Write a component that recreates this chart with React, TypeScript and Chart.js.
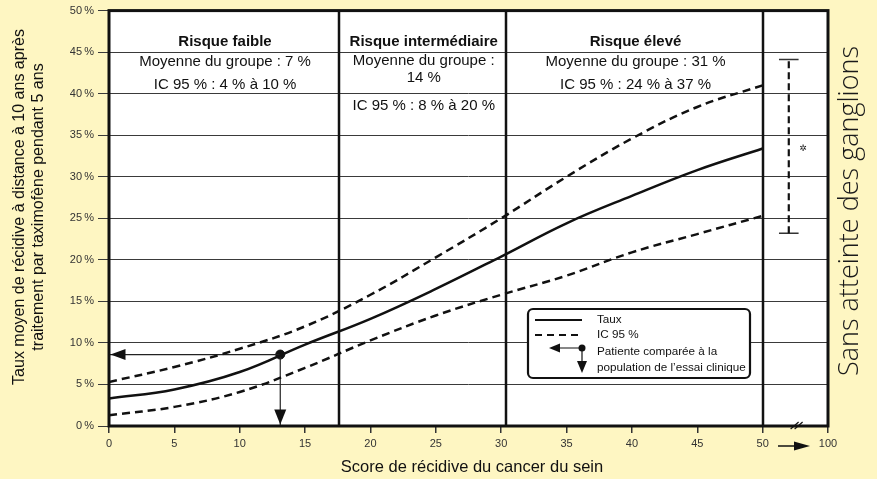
import React, { useEffect, useRef } from 'react';
import { Chart, registerables } from 'chart.js';

Chart.register(...registerables);

// ---- data ----
const scores = [0, 5, 10, 15, 20, 25, 30, 35, 40, 45, 50];
const taux = [3.3, 4.4, 6.5, 9.8, 12.9, 16.5, 20.4, 24.4, 27.7, 30.8, 33.4];
const icUpper = [5.3, 7.1, 9.3, 12.0, 15.8, 20.3, 25.0, 30.0, 34.6, 38.4, 41.0];
const icLower = [1.3, 2.3, 4.1, 7.0, 10.3, 13.3, 15.8, 18.1, 20.9, 23.1, 25.3];

const xTickValues = [0, 5, 10, 15, 20, 25, 30, 35, 40, 45, 50, 55];
const xTickLabels = ['0', '5', '10', '15', '20', '25', '30', '35', '40', '45', '50', '100'];
const yTickValues = [0, 5, 10, 15, 20, 25, 30, 35, 40, 45, 50];

const riskBounds = [0, 17.6, 30.4, 50];
const riskTitles = ['Risque faible', 'Risque intermédiaire', 'Risque élevé'];
const riskLines = [
  ['Moyenne du groupe : 7 %', 'IC 95 % : 4 % à 10 %'],
  ['Moyenne du groupe :', '14 %', 'IC 95 % : 8 % à 20 %'],
  ['Moyenne du groupe : 31 %', 'IC 95 % : 24 % à 37 %'],
];

const nodeNegX = 52;
const nodeNegRange = [23.2, 44.1];
const nodeNegMarkX = 53.1;
const nodeNegMarkY = 33.4;

const patientPoint = [13.1, 8.6];

const breakMarkX = 52.6;

const BG = '#FEF6C2';
const INK = '#111111';
const FONT = '"Liberation Sans", Arial, sans-serif';

const pts = (ys: number[]) => scores.map((x, i) => ({ x, y: ys[i] }));

function arrowHead(ctx: CanvasRenderingContext2D, tipX: number, tipY: number, dir: 'left' | 'down' | 'right', len: number, half: number) {
  ctx.beginPath();
  if (dir === 'left') {
    ctx.moveTo(tipX, tipY);
    ctx.lineTo(tipX + len, tipY - half);
    ctx.lineTo(tipX + len, tipY + half);
  } else if (dir === 'right') {
    ctx.moveTo(tipX, tipY);
    ctx.lineTo(tipX - len, tipY - half);
    ctx.lineTo(tipX - len, tipY + half);
  } else {
    ctx.moveTo(tipX, tipY);
    ctx.lineTo(tipX - half, tipY - len);
    ctx.lineTo(tipX + half, tipY - len);
  }
  ctx.closePath();
  ctx.fill();
}

const decor = {
  id: 'decor',
  beforeDraw(chart: any) {
    const { ctx, chartArea: a } = chart;
    ctx.save();
    ctx.fillStyle = BG;
    ctx.fillRect(0, 0, chart.width, chart.height);
    ctx.fillStyle = '#ffffff';
    ctx.fillRect(a.left, a.top, a.right - a.left, a.bottom - a.top);
    ctx.restore();
  },
  afterDraw(chart: any) {
    const { ctx, chartArea: a } = chart;
    const xs = chart.scales.x;
    const ys = chart.scales.y;
    ctx.save();

    // risk dividers
    ctx.strokeStyle = INK;
    ctx.lineWidth = 2.5;
    riskBounds.slice(1).forEach((b) => {
      const px = Math.round(xs.getPixelForValue(b));
      ctx.beginPath();
      ctx.moveTo(px, a.top);
      ctx.lineTo(px, a.bottom);
      ctx.stroke();
    });

    // frame
    ctx.lineWidth = 3;
    ctx.strokeRect(a.left, a.top, a.right - a.left, a.bottom - a.top);

    // risk texts
    ctx.fillStyle = INK;
    ctx.textAlign = 'center';
    ctx.textBaseline = 'middle';
    const lineYs = [[62, 85], [61, 78, 106], [62, 85]];
    for (let i = 0; i < 3; i++) {
      const cx = (xs.getPixelForValue(riskBounds[i]) + xs.getPixelForValue(riskBounds[i + 1])) / 2 + 1;
      ctx.font = `bold 15px ${FONT}`;
      ctx.fillText(riskTitles[i], cx, 42);
      ctx.font = `15px ${FONT}`;
      riskLines[i].forEach((t, j) => ctx.fillText(t, cx, lineYs[i][j]));
    }

    // patient arrowheads
    ctx.fillStyle = INK;
    const py = ys.getPixelForValue(patientPoint[1]);
    const px = xs.getPixelForValue(patientPoint[0]);
    arrowHead(ctx, a.left + 1.5, py, 'left', 15, 5.5);
    arrowHead(ctx, px, a.bottom - 1.5, 'down', 15, 6);

    // asterisk mark
    ctx.font = `9px "DejaVu Sans", sans-serif`;
    ctx.fillText('✲', xs.getPixelForValue(nodeNegMarkX), ys.getPixelForValue(nodeNegMarkY));

    // axis break mark
    const bx = xs.getPixelForValue(breakMarkX);
    ctx.strokeStyle = INK;
    ctx.lineWidth = 1.2;
    [-2, 2].forEach((d) => {
      ctx.beginPath();
      ctx.moveTo(bx + d - 4, a.bottom + 3);
      ctx.lineTo(bx + d + 4, a.bottom - 4);
      ctx.stroke();
    });

    // arrow between 50 and 100 labels
    const ay = 446;
    ctx.lineWidth = 1.5;
    ctx.beginPath();
    ctx.moveTo(778, ay);
    ctx.lineTo(796, ay);
    ctx.stroke();
    arrowHead(ctx, 810, ay, 'right', 16, 4.5);

    // axis titles
    ctx.fillStyle = INK;
    ctx.textAlign = 'center';
    ctx.font = `16.5px ${FONT}`;
    ctx.fillText('Score de récidive du cancer du sein', 472, 467);

    ctx.save();
    ctx.translate(20, 207);
    ctx.rotate(-Math.PI / 2);
    ctx.font = `16px ${FONT}`;
    ctx.fillText('Taux moyen de récidive à distance à 10 ans après', 0, 0);
    ctx.fillText('traitement par taximofène pendant 5 ans', 0, 19);
    ctx.restore();

    ctx.save();
    ctx.translate(850, 211);
    ctx.rotate(-Math.PI / 2);
    ctx.font = `300 27px "Open Sans", ${FONT}`;
    ctx.fillStyle = '#1a1a1a';
    ctx.fillText('Sans atteinte des ganglions', 0, 0);
    ctx.restore();

    // legend
    const L = { x: 528, y: 309, w: 222, h: 69 };
    ctx.fillStyle = '#ffffff';
    ctx.strokeStyle = INK;
    ctx.lineWidth = 2.2;
    ctx.beginPath();
    (ctx as any).roundRect(L.x, L.y, L.w, L.h, 5);
    ctx.fill();
    ctx.stroke();

    ctx.lineWidth = 2.2;
    ctx.beginPath();
    ctx.moveTo(535, 320);
    ctx.lineTo(582, 320);
    ctx.stroke();
    ctx.setLineDash([7, 5]);
    ctx.beginPath();
    ctx.moveTo(535, 335);
    ctx.lineTo(582, 335);
    ctx.stroke();
    ctx.setLineDash([]);

    ctx.fillStyle = INK;
    ctx.lineWidth = 1.2;
    ctx.beginPath();
    ctx.moveTo(582, 348);
    ctx.lineTo(556, 348);
    ctx.moveTo(582, 348);
    ctx.lineTo(582, 362);
    ctx.stroke();
    arrowHead(ctx, 549, 348, 'left', 11, 4.5);
    arrowHead(ctx, 582, 373, 'down', 12, 5);
    ctx.beginPath();
    ctx.arc(582, 348, 3.5, 0, Math.PI * 2);
    ctx.fill();

    ctx.font = `11.7px ${FONT}`;
    ctx.textAlign = 'left';
    ctx.fillText('Taux', 597, 320);
    ctx.fillText('IC 95 %', 597, 335);
    ctx.fillText('Patiente comparée à la', 597, 352);
    ctx.fillText('population de l’essai clinique', 597, 368);

    ctx.restore();
  },
};

export default function App() {
  const ref = useRef<HTMLCanvasElement>(null);

  useEffect(() => {
    if (!ref.current) return;
    const chart = new Chart(ref.current, {
      type: 'line',
      data: {
        datasets: [
          {
            label: 'Taux',
            data: pts(taux),
            borderColor: INK,
            borderWidth: 2.5,
            pointRadius: 0,
            tension: 0.4,
          },
          {
            label: 'IC 95 % sup',
            data: pts(icUpper),
            borderColor: INK,
            borderWidth: 2.5,
            borderDash: [8, 5],
            pointRadius: 0,
            tension: 0.4,
          },
          {
            label: 'IC 95 % inf',
            data: pts(icLower),
            borderColor: INK,
            borderWidth: 2.5,
            borderDash: [8, 5],
            pointRadius: 0,
            tension: 0.4,
          },
          {
            label: 'Sans atteinte',
            data: [
              { x: nodeNegX, y: nodeNegRange[0] },
              { x: nodeNegX, y: nodeNegRange[1] },
            ],
            borderColor: INK,
            borderWidth: 2.2,
            borderDash: [7, 4],
            pointRadius: 0,
          },
          {
            label: 'cap haut',
            data: [
              { x: nodeNegX - 0.75, y: nodeNegRange[1] },
              { x: nodeNegX + 0.75, y: nodeNegRange[1] },
            ],
            borderColor: '#333',
            borderWidth: 1.5,
            pointRadius: 0,
          },
          {
            label: 'cap bas',
            data: [
              { x: nodeNegX - 0.75, y: nodeNegRange[0] },
              { x: nodeNegX + 0.75, y: nodeNegRange[0] },
            ],
            borderColor: '#333',
            borderWidth: 1.5,
            pointRadius: 0,
          },
          {
            label: 'patiente h',
            data: [
              { x: 0, y: patientPoint[1] },
              { x: patientPoint[0], y: patientPoint[1] },
            ],
            borderColor: '#222',
            borderWidth: 1.2,
            pointRadius: 0,
          },
          {
            label: 'patiente v',
            data: [
              { x: patientPoint[0], y: patientPoint[1] },
              { x: patientPoint[0], y: 0 },
            ],
            borderColor: '#222',
            borderWidth: 1.2,
            pointRadius: 0,
          },
          {
            label: 'patiente',
            data: [{ x: patientPoint[0], y: patientPoint[1] }],
            showLine: false,
            pointRadius: 4.5,
            pointBackgroundColor: INK,
            pointBorderColor: INK,
          },
        ],
      },
      options: {
        responsive: false,
        animation: false,
        devicePixelRatio: 1,
        events: [],
        layout: { padding: { left: 0, top: 8, right: 49, bottom: 0 } },
        plugins: { legend: { display: false }, tooltip: { enabled: false } },
        scales: {
          x: {
            type: 'linear',
            min: 0,
            max: 55,
            afterBuildTicks: (s: any) => {
              s.ticks = xTickValues.map((v) => ({ value: v }));
            },
            afterFit: (s: any) => {
              s.height = 53;
            },
            ticks: {
              color: '#333',
              font: { family: FONT, size: 11 },
              padding: 4,
              maxRotation: 0,
              autoSkip: false,
              callback: (v: any) => xTickLabels[xTickValues.indexOf(Number(v))] ?? '',
            },
            grid: { drawOnChartArea: false, drawTicks: true, tickLength: 7, color: '#333', lineWidth: 1.5 },
            border: { display: false },
          },
          y: {
            type: 'linear',
            min: 0,
            max: 50,
            afterBuildTicks: (s: any) => {
              s.ticks = yTickValues.map((v) => ({ value: v }));
            },
            afterFit: (s: any) => {
              s.width = 109;
            },
            ticks: {
              color: '#333',
              font: { family: FONT, size: 11 },
              padding: 4,
              callback: (v: any) => `${v}\u2009%`,
            },
            grid: { color: '#3a3a3a', lineWidth: 1, tickLength: 11, drawTicks: true },
            border: { display: false },
          },
        },
      },
      plugins: [decor],
    } as any);
    return () => chart.destroy();
  }, []);

  return (
    <div style={{ position: 'absolute', left: 0, top: 0, width: 877, height: 479, background: BG }}>
      <canvas ref={ref} width={877} height={479} />
    </div>
  );
}
